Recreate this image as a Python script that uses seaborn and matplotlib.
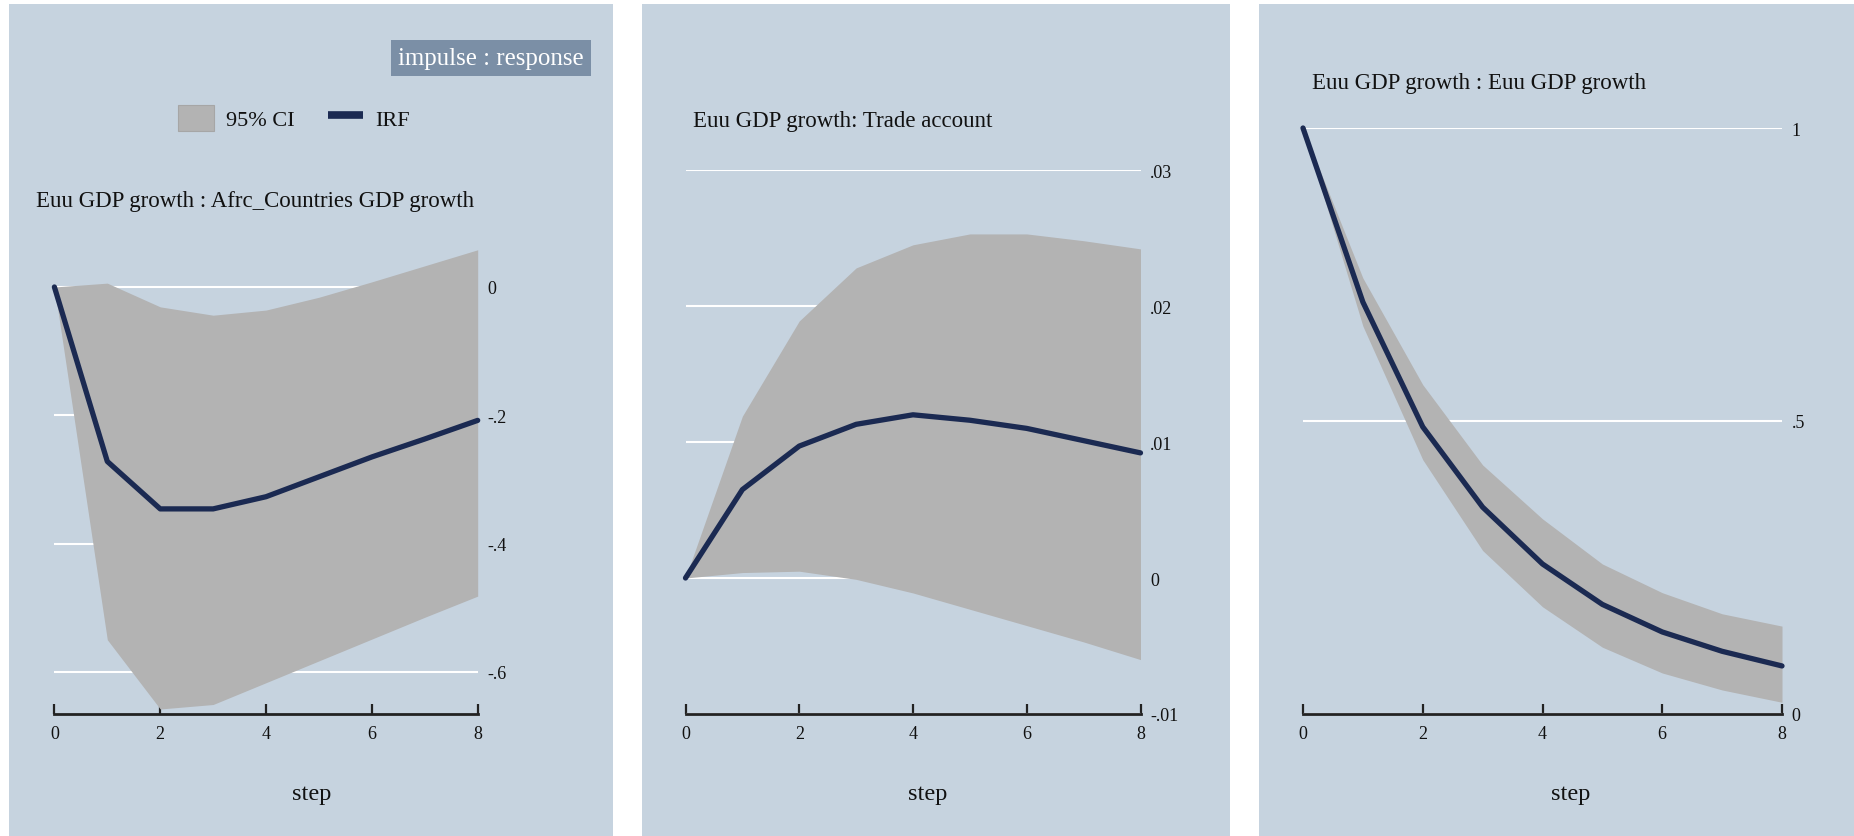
import matplotlib
matplotlib.use("Agg")
import matplotlib.pyplot as plt
from matplotlib.patches import Rectangle, Patch
from matplotlib.lines import Line2D
import seaborn as sns
import pandas as pd

# ---------------- data ----------------
steps = [0, 1, 2, 3, 4, 5, 6, 7, 8]

irf_afr = [0, -0.272, -0.346, -0.346, -0.327, -0.296, -0.265, -0.237, -0.208]
lo_afr = [0, -0.550, -0.658, -0.651, -0.617, -0.583, -0.549, -0.515, -0.482]
hi_afr = [0, 0.006, -0.031, -0.044, -0.036, -0.016, 0.008, 0.033, 0.058]

irf_trade = [0, 0.0065, 0.0097, 0.0113, 0.0120, 0.0116, 0.0110, 0.0101, 0.0092]
lo_trade = [0, 0.0004, 0.0005, -0.0001, -0.0011, -0.0023, -0.0035, -0.0047, -0.0060]
hi_trade = [0, 0.0119, 0.0189, 0.0228, 0.0245, 0.0253, 0.0253, 0.0248, 0.0242]

irf_euu = [1.0, 0.703, 0.490, 0.353, 0.256, 0.187, 0.140, 0.107, 0.082]
lo_euu = [1.0, 0.662, 0.434, 0.279, 0.183, 0.114, 0.070, 0.041, 0.020]
hi_euu = [1.0, 0.744, 0.562, 0.425, 0.333, 0.256, 0.207, 0.171, 0.150]

titles = ["Euu GDP growth : Afrc_Countries GDP growth",
          "Euu GDP growth: Trade account",
          "Euu GDP growth : Euu GDP growth"]
yticks_afr = [0, -0.2, -0.4, -0.6]
ylabels_afr = ["0", "-.2", "-.4", "-.6"]
yticks_trade = [0.03, 0.02, 0.01, 0, -0.01]
ylabels_trade = [".03", ".02", ".01", "0", "-.01"]
yticks_euu = [1, 0.5, 0]
ylabels_euu = ["1", ".5", "0"]
xticks = [0, 2, 4, 6, 8]
legend_labels = ["95% CI", "IRF"]
header = "impulse : response"
xlabel = "step"

# ---------------- style ----------------
sns.set_theme(style="white")
plt.rcParams['font.family'] = ['Liberation Serif', 'DejaVu Serif']

BG = "#c6d3df"
CI = "#b3b3b3"
NAVY = "#1b2a52"
W, H = 1854, 837

fig = plt.figure(figsize=(W / 100, H / 100), dpi=100)
fig.patch.set_facecolor("white")

def fx(px):
    return px / W

def fy(py):
    return 1 - py / H

# panel backgrounds
for x0, x1 in [(9, 613), (642, 1230), (1259, 1854)]:
    fig.patches.append(Rectangle((fx(x0), 0), fx(x1 - x0), fy(5), transform=fig.transFigure,
                                 facecolor=BG, edgecolor="none", zorder=-5))

panels = [
    dict(irf=irf_afr, lo=lo_afr, hi=hi_afr, yt=yticks_afr, yl=ylabels_afr,
         ylim=(-0.6658, 0.06), x0=54.4, x1=477.7, top=249.5,
         tx=35.5, ty=202, sx=312),
    dict(irf=irf_trade, lo=lo_trade, hi=hi_trade, yt=yticks_trade, yl=ylabels_trade,
         ylim=(-0.01, 0.03), x0=685.5, x1=1140.5, top=171.0,
         tx=693, ty=121, sx=928),
    dict(irf=irf_euu, lo=lo_euu, hi=hi_euu, yt=yticks_euu, yl=ylabels_euu,
         ylim=(0, 1), x0=1303, x1=1782, top=129.0,
         tx=1312, ty=83, sx=1571),
]

AXIS_Y = 715
for i, p in enumerate(panels):
    ax = fig.add_axes([fx(p["x0"]), fy(AXIS_Y), fx(p["x1"] - p["x0"]), (AXIS_Y - p["top"]) / H])
    ax.set_zorder(2)
    ax.set_facecolor("none")
    df = pd.DataFrame({"step": steps, "irf": p["irf"], "lo": p["lo"], "hi": p["hi"]})
    ax.fill_between(df["step"], df["lo"], df["hi"], color=CI, linewidth=0, zorder=1)
    sns.lineplot(data=df, x="step", y="irf", ax=ax, color=NAVY, linewidth=3.8,
                 zorder=3, clip_on=False)
    ax.set_xlim(0, 8)
    ax.set_ylim(*p["ylim"])
    ax.set_xticks(xticks)
    ax.set_xticklabels([str(t) for t in xticks], fontsize=13)
    ax.set_yticks(p["yt"])
    ax.set_yticklabels(p["yl"], fontsize=13)
    ax.yaxis.tick_right()
    ax.tick_params(axis="y", length=0, pad=7, colors="#111111")
    ax.tick_params(axis="x", bottom=True, direction="in", length=7, width=1.6, pad=8,
                   color="#222222", labelcolor="#111111")
    ax.set_axisbelow(True)
    ax.grid(axis="y", color="white", linewidth=1.5)
    ax.grid(axis="x", visible=False)
    for s in ["top", "left", "right"]:
        ax.spines[s].set_visible(False)
    ax.spines["bottom"].set_color("#222222")
    ax.spines["bottom"].set_linewidth(2.0)
    ax.set_xlabel("")
    ax.set_ylabel("")
    fig.text(fx(p["tx"]), fy(p["ty"]), titles[i], fontsize=16.5, ha="left", va="center",
             color="#111111")
    fig.text(fx(p["sx"]), fy(795), xlabel, fontsize=17.5, ha="center", va="center",
             color="#111111")

# legend
handles = [Patch(facecolor=CI, edgecolor="#a6a6a6", linewidth=0.8),
           Line2D([0], [0], color=NAVY, linewidth=5.5, solid_capstyle="butt")]
fig.legend(handles, legend_labels, loc="center left", bbox_to_anchor=(fx(178), fy(119)),
           ncol=2, frameon=False, fontsize=16, handlelength=1.6, handleheight=1.4,
           handletextpad=0.55, columnspacing=1.5, borderpad=0, borderaxespad=0,
           labelcolor="#111111")

# header box
fig.text(fx(491), fy(59), header, fontsize=17.9, ha="center", va="center", color="white",
         bbox=dict(boxstyle="square,pad=0.28", facecolor="#7b8fa6", edgecolor="none"))

fig.savefig("out.png", dpi=100, facecolor="white")
